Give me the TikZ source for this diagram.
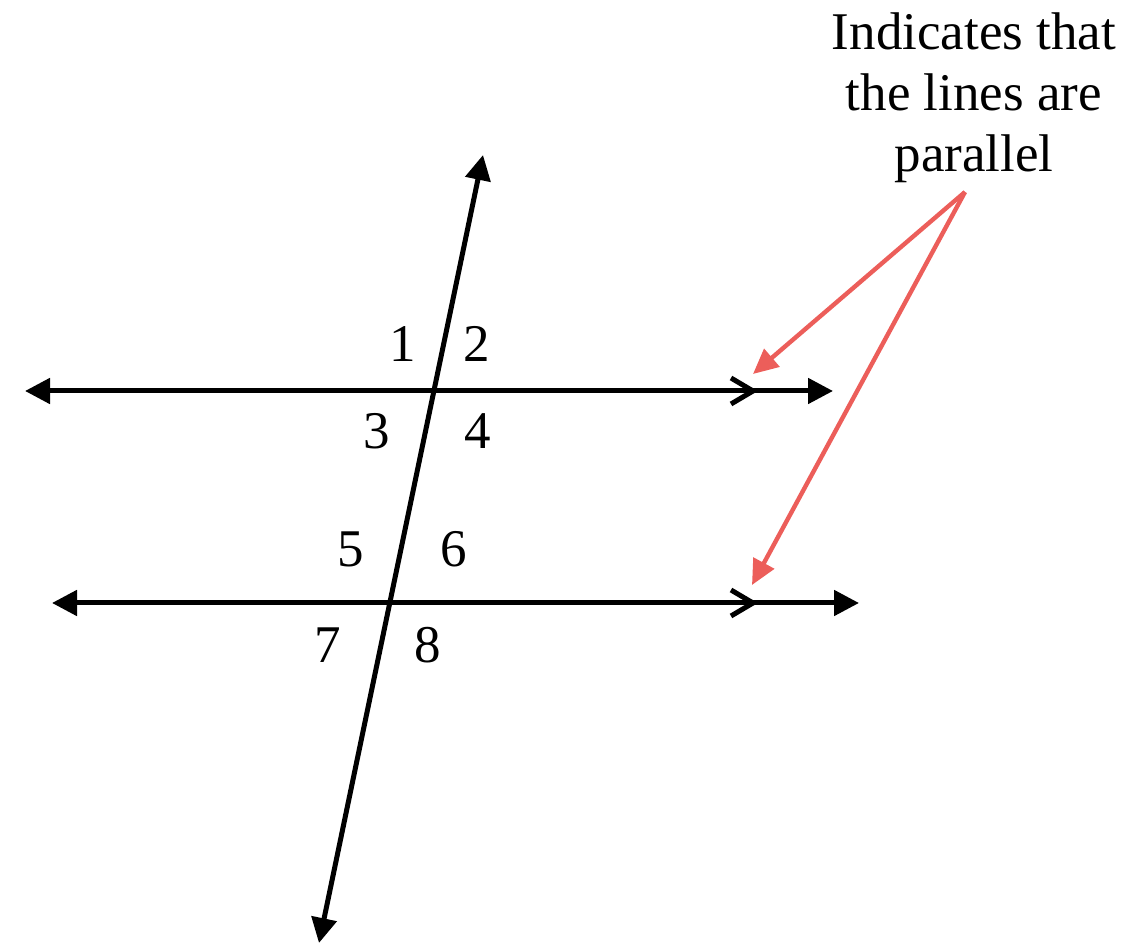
\documentclass[tikz,border=0pt]{standalone}
\usepackage{fontspec}
\setmainfont{Liberation Serif}
\usetikzlibrary{arrows.meta}
\definecolor{redarrow}{RGB}{236,94,90}
\begin{document}
\begin{tikzpicture}[x=0.5pt,y=-0.5pt,
  dline/.style={line width=2.5pt,
    {Triangle[length=12.5pt,width=12.5pt]}-{Triangle[length=12.5pt,width=12.5pt]}},
  chev/.style={line width=2.5pt, line join=miter},
  redarr/.style={draw=redarrow, line width=2.2pt,
    -{Triangle[length=12.5pt,width=11.5pt,fill=redarrow]}},
  num/.style={anchor=base, inner sep=0pt, font=\fontsize{26.5}{30.5}\selectfont},
  note/.style={align=center, anchor=base, inner sep=0pt, font=\fontsize{26.5}{30.5}\selectfont}]
\useasboundingbox (0,0) rectangle (1146,945);
% line end points
\coordinate (L1a) at (25,391);
\coordinate (L1b) at (833,391);
\coordinate (L2a) at (52,603);
\coordinate (L2b) at (859,603);
\coordinate (Ta) at (483,155);
\coordinate (Tb) at (319,943);
\coordinate (C1) at (753,391);
\coordinate (C2) at (753,603);
\coordinate (R) at (965,192);
\coordinate (P1) at (753,374);
\coordinate (P2) at (752,585);
% lines
\draw[dline] (L1a) -- (L1b);
\draw[dline] (L2a) -- (L2b);
\draw[dline] (Tb) -- (Ta);
% parallel marks
\draw[chev] (C1) ++(-22,-13) -- (C1) -- ++(-22,13);
\draw[chev] (C2) ++(-22,-13) -- (C2) -- ++(-22,13);
% red arrows
\draw[redarr] (R) -- (P1);
\draw[redarr] (R) -- (P2);
% angle numbers
\node[num] (n1) at (403,362) {1};
\node[num] (n2) at (477,362) {2};
\node[num] (n3) at (377,449) {3};
\node[num] (n4) at (478,449) {4};
\node[num] (n5) at (351,567) {5};
\node[num] (n6) at (454,567) {6};
\node[num] (n7) at (328,663) {7};
\node[num] (n8) at (428,663) {8};
% note
\node[note] (txt) at (974,172) {Indicates that\\the lines are\\parallel};
\end{tikzpicture}
\end{document}
